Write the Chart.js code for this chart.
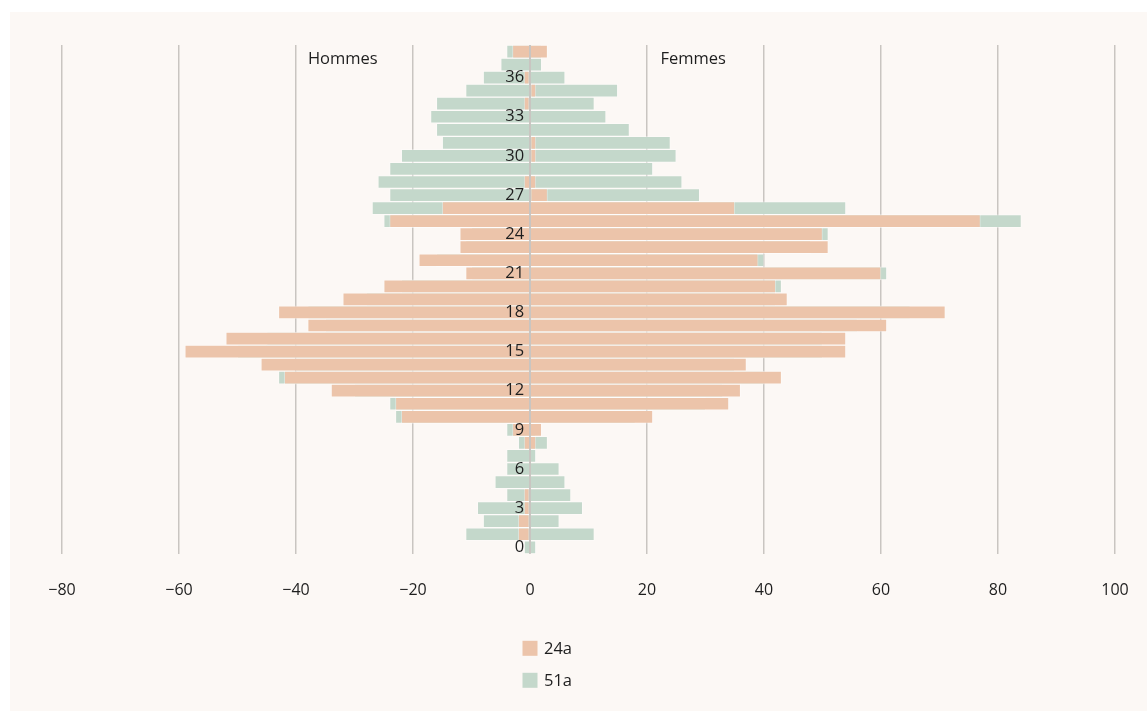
<!DOCTYPE html>
<html><head><meta charset="utf-8">
<script src="https://cdn.jsdelivr.net/npm/chart.js@4"></script>
<style>
html,body{margin:0;padding:0;background:#fff;overflow:hidden;}
#panel{position:absolute;left:10px;top:12px;width:1137px;height:699px;background:#fcf8f5;}
#c{position:absolute;left:0;top:0;}
</style></head><body>
<div id="panel"></div>
<canvas id="c" width="1147" height="711"></canvas>
<script>
// Age classes (rows, bottom to top)
const ages = ['0','1','2','3','4','5','6','7','8','9','10','11','12','13','14','15','16','17','18','19',
  '20','21','22','23','24','25','26','27','28','29','30','31','32','33','34','35','36','37','38'];
const seriesNames = ['24a', '51a'];
const sideLabels = ['Hommes', 'Femmes'];
const xTicks = [-80, -60, -40, -20, 0, 20, 40, 60, 80, 100];

// 24a — Hommes (men, plotted to the left) and Femmes (women, to the right)
const men24 = [0,2,2,1,1,0,0,0,1,3,22,23,34,42,46,59,52,38,43,32,25,11,19,12,12,24,15,0,1,0,0,0,0,0,1,0,1,0,3];
const women24 = [0,0,0,0,0,0,0,0,1,2,21,34,36,43,37,54,54,61,71,44,42,60,39,51,50,77,35,3,1,0,1,1,0,0,0,1,0,0,3];
// 51a
const men51 = [1,11,8,9,4,6,4,4,2,4,23,24,30,43,40,50,45,35,38,28,22,10,16,11,10,25,27,24,26,24,22,15,16,17,16,11,8,5,4];
const women51 = [1,11,5,9,7,6,5,1,3,1,18,30,33,40,35,50,50,56,65,42,43,61,40,48,51,84,54,29,26,21,25,24,17,13,11,15,6,2,2];

const colors = ['#ecc4aa', '#c4d8cb'];
const textColor = '#1e1e1e';
const gridColor = '#c9c5c1';
const FONT = '"Open Sans", "Noto Sans", sans-serif';

function span(men, women) {
  return men.map((m, i) => (m === 0 && women[i] === 0) ? null : [-m, women[i]]);
}

const zeroLinePlugin = {
  id: 'zeroLine',
  afterDatasetsDraw(chart) {
    const {ctx, chartArea, scales} = chart;
    const x0 = scales.x.getPixelForValue(0);
    ctx.save();
    ctx.strokeStyle = gridColor;
    ctx.lineWidth = 2;
    ctx.beginPath();
    ctx.moveTo(x0, chartArea.top);
    ctx.lineTo(x0, chartArea.bottom);
    ctx.stroke();
    ctx.restore();
  }
};

const sidePlugin = {
  id: 'sideLabels',
  afterDraw(chart) {
    const {ctx, chartArea, scales} = chart;
    ctx.save();
    ctx.font = '16.5px ' + FONT;
    ctx.fillStyle = textColor;
    ctx.textAlign = 'center';
    ctx.textBaseline = 'middle';
    ctx.fillText(sideLabels[0], scales.x.getPixelForValue(-32), chartArea.top + 14);
    ctx.fillText(sideLabels[1], scales.x.getPixelForValue(27.9), chartArea.top + 14);
    ctx.restore();
  }
};

const legendPlugin = {
  id: 'stackLegend',
  afterDraw(chart) {
    const {ctx, chartArea, scales} = chart;
    const x0 = scales.x.getPixelForValue(0);
    ctx.save();
    ctx.font = '16.5px ' + FONT;
    ctx.textBaseline = 'middle';
    ctx.textAlign = 'left';
    chart.data.datasets.forEach((ds, i) => {
      const y = chartArea.bottom + 87 + i * 32;
      ctx.fillStyle = ds.backgroundColor;
      ctx.fillRect(x0 - 7.5, y, 15, 15);
      ctx.fillStyle = textColor;
      ctx.fillText(ds.label, x0 + 14, y + 8);
    });
    ctx.restore();
  }
};

new Chart(document.getElementById('c'), {
  type: 'bar',
  data: {
    labels: ages,
    datasets: [
      { label: seriesNames[0], data: span(men24, women24), backgroundColor: colors[0] },
      { label: seriesNames[1], data: span(men51, women51), backgroundColor: colors[1] }
    ]
  },
  options: {
    indexAxis: 'y',
    responsive: false,
    animation: false,
    layout: { padding: { left: 62, right: 32, top: 45, bottom: 93 } },
    datasets: {
      bar: {
        grouped: false,
        barPercentage: 1,
        categoryPercentage: 1,
        borderWidth: 1,
        borderColor: 'rgba(255,255,255,0.35)',
        borderSkipped: false
      }
    },
    plugins: {
      legend: { display: false },
      tooltip: { enabled: false }
    },
    scales: {
      x: {
        type: 'linear',
        min: xTicks[0],
        max: xTicks[xTicks.length - 1],
        afterBuildTicks(scale) { scale.ticks = xTicks.map(v => ({ value: v })); },
        grid: { color: gridColor, lineWidth: 1.5, drawTicks: true, tickLength: 9, tickColor: 'rgba(0,0,0,0)' },
        border: { display: false },
        ticks: {
          padding: 18,
          color: textColor,
          font: { family: FONT, size: 16 },
          callback: v => v < 0 ? '\u2212' + Math.abs(v) : String(v)
        }
      },
      y: {
        type: 'category',
        reverse: true,
        position: { x: -1 },
        grid: { display: false, drawTicks: false },
        border: { display: false },
        ticks: {
          z: 1,
          autoSkip: false,
          padding: 0,
          color: textColor,
          font: { family: FONT, size: 16.5 },
          callback: (v, i) => (i % 3 === 0 ? ages[i] : '')
        }
      }
    }
  },
  plugins: [zeroLinePlugin, sidePlugin, legendPlugin]
});
</script>
</body></html>
